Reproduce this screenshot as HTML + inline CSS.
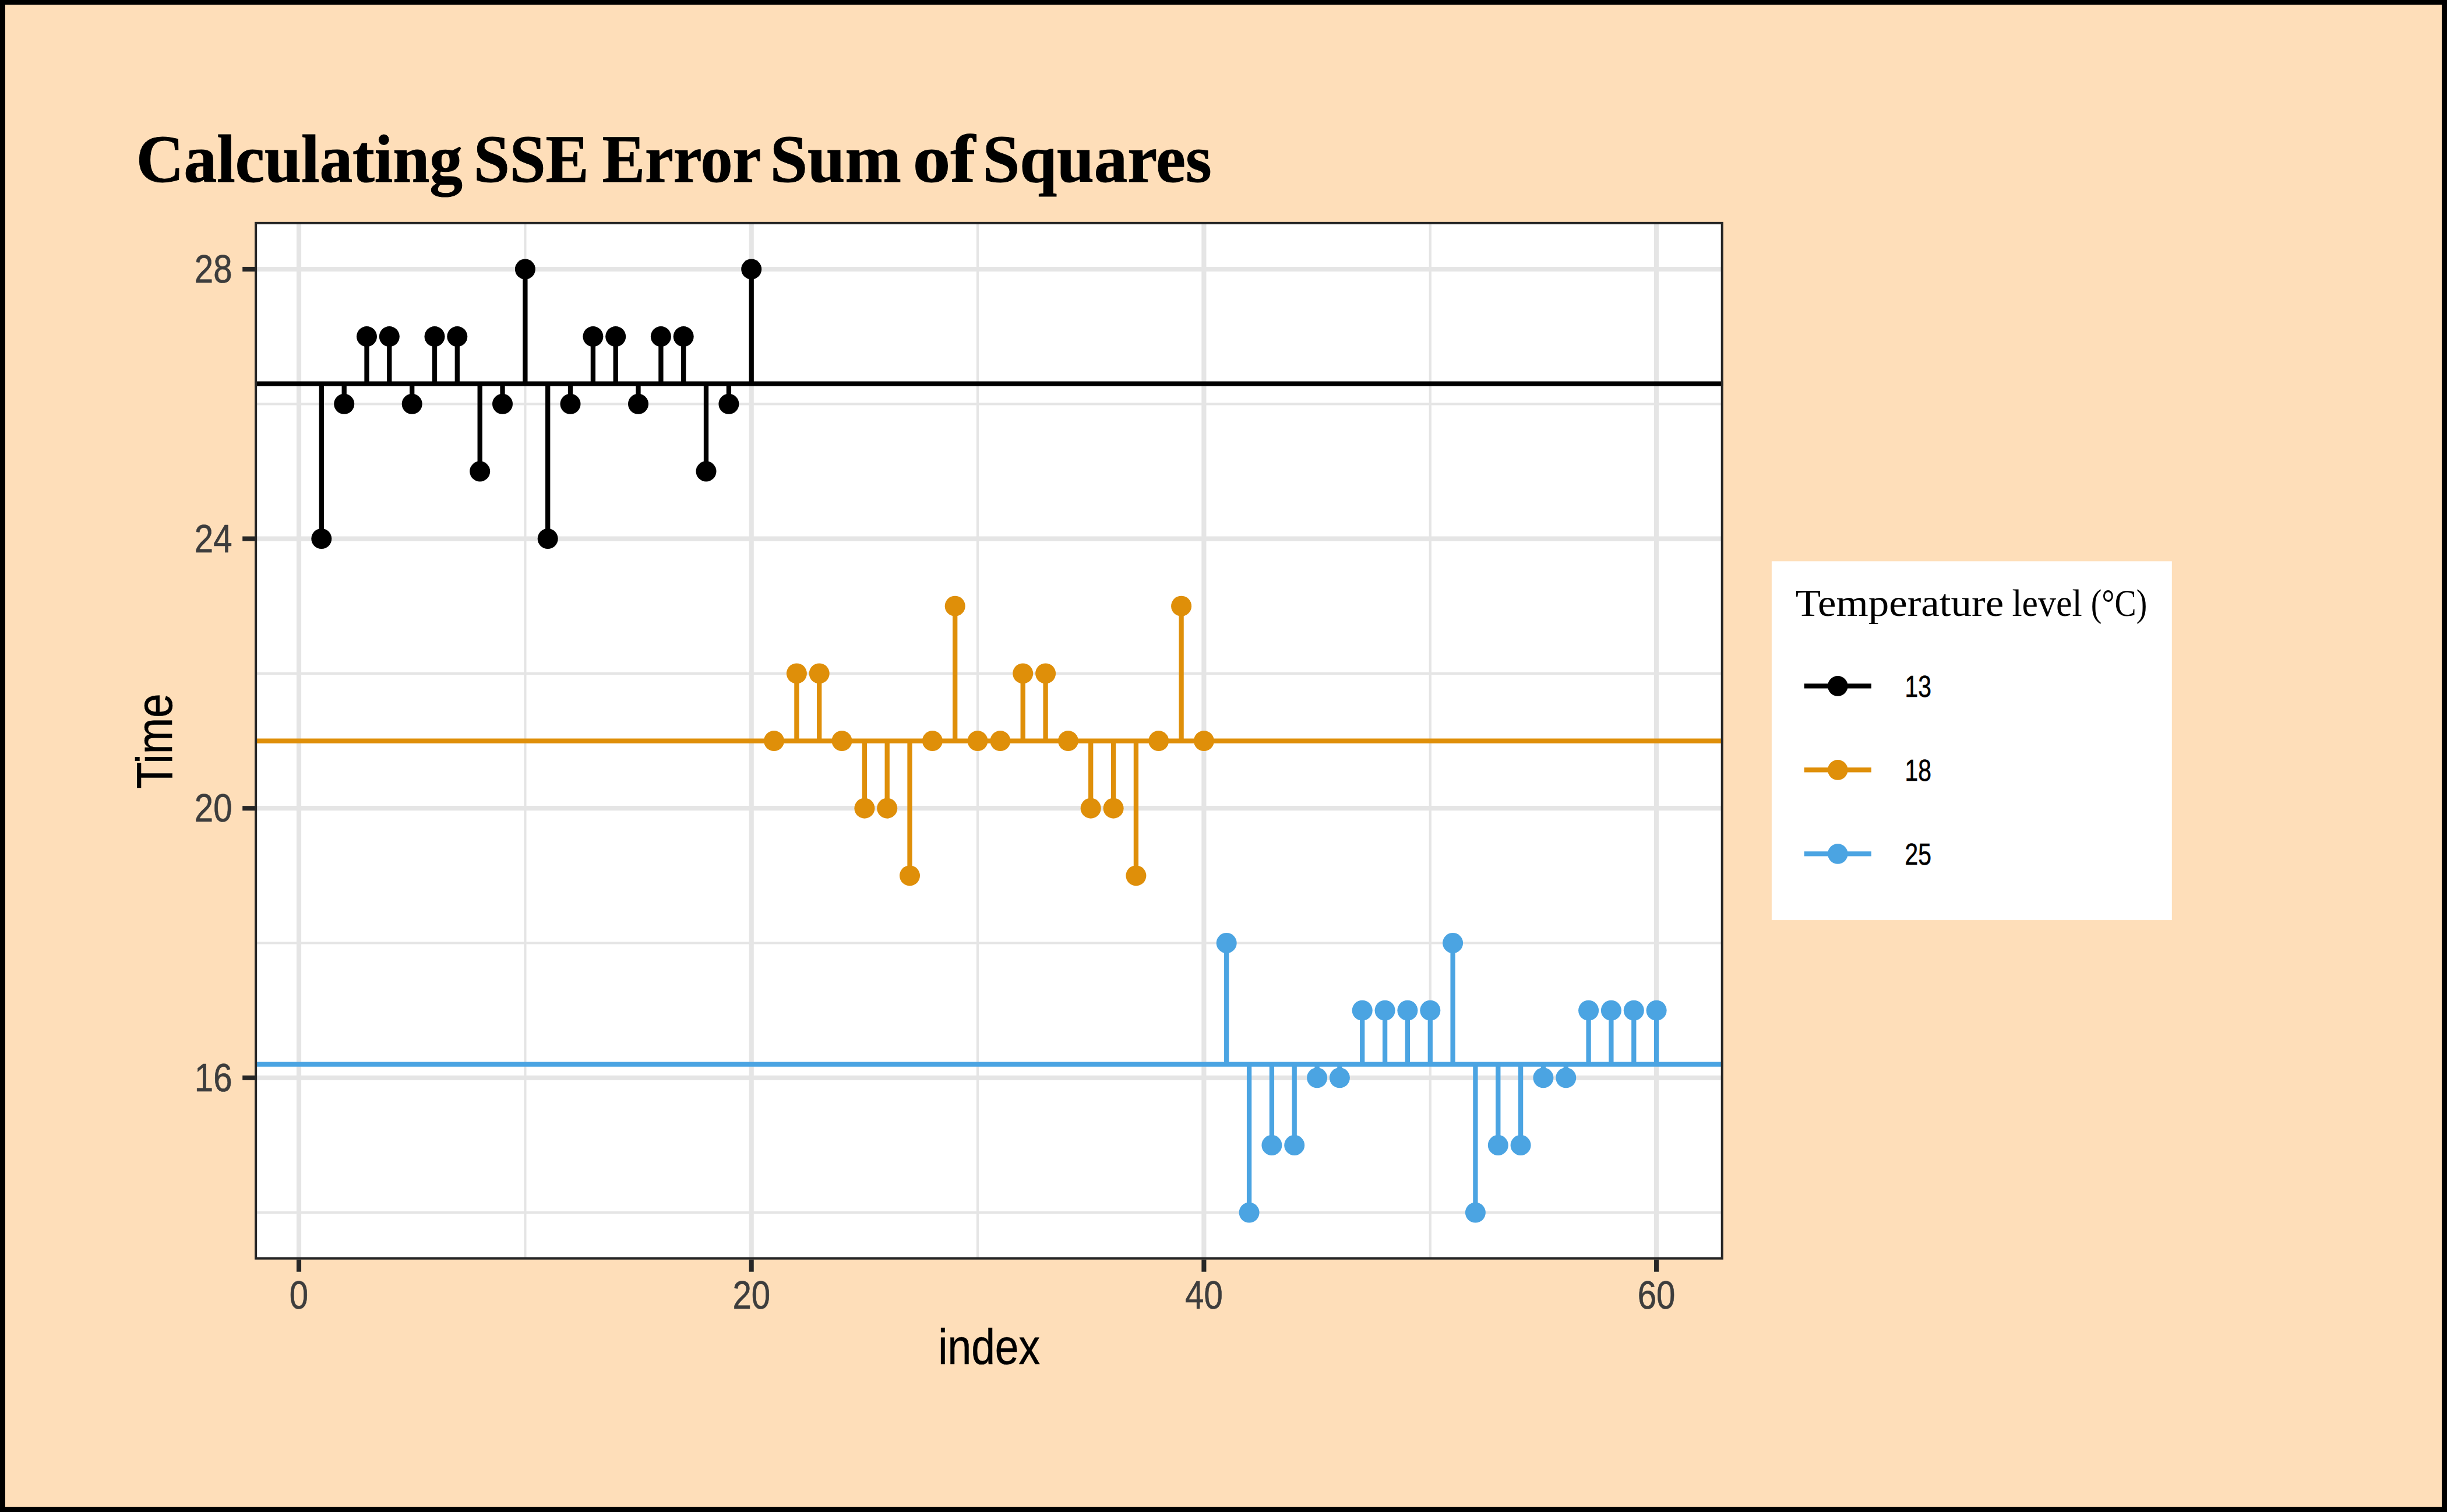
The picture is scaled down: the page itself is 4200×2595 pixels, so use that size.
<!DOCTYPE html>
<html lang="en"><head><meta charset="utf-8"><title>Calculating SSE Error Sum of Squares</title>
<style>html,body{margin:0;padding:0;background:#000;width:4200px;height:2595px}svg{display:block}.sans{font-family:"Liberation Sans",sans-serif}.serif{font-family:"Liberation Serif",serif}</style></head><body>
<svg width="4200" height="2595" viewBox="0 0 4200 2595">
<rect x="0" y="0" width="4200" height="2595" fill="#000"/>
<rect x="9" y="8" width="4182" height="2578" fill="#FEDEB9"/>
<rect x="439.1" y="382.9" width="2516.7" height="1776.8" fill="#fff"/>
<g stroke="#E5E5E5" stroke-width="4.2" fill="none">
<line x1="439.1" x2="2955.8" y1="2081.1" y2="2081.1"/>
<line x1="439.1" x2="2955.8" y1="1618.5" y2="1618.5"/>
<line x1="439.1" x2="2955.8" y1="1155.9" y2="1155.9"/>
<line x1="439.1" x2="2955.8" y1="693.3" y2="693.3"/>
<line y1="382.9" y2="2159.7" x1="901.4" x2="901.4"/>
<line y1="382.9" y2="2159.7" x1="1678.0" x2="1678.0"/>
<line y1="382.9" y2="2159.7" x1="2454.8" x2="2454.8"/>
</g>
<g stroke="#E5E5E5" stroke-width="8.2" fill="none">
<line x1="439.1" x2="2955.8" y1="1849.8" y2="1849.8"/>
<line x1="439.1" x2="2955.8" y1="1387.2" y2="1387.2"/>
<line x1="439.1" x2="2955.8" y1="924.6" y2="924.6"/>
<line x1="439.1" x2="2955.8" y1="462.0" y2="462.0"/>
<line y1="382.9" y2="2159.7" x1="513.0" x2="513.0"/>
<line y1="382.9" y2="2159.7" x1="1289.7" x2="1289.7"/>
<line y1="382.9" y2="2159.7" x1="2066.4" x2="2066.4"/>
<line y1="382.9" y2="2159.7" x1="2843.1" x2="2843.1"/>
</g>
<g stroke="#000000" stroke-width="8.3" fill="#000000">
<line x1="437.1" x2="2957.8" y1="658.6" y2="658.6"/>
<line x1="551.8" x2="551.8" y1="658.6" y2="924.6"/>
<line x1="590.7" x2="590.7" y1="658.6" y2="693.3"/>
<line x1="629.5" x2="629.5" y1="658.6" y2="577.6"/>
<line x1="668.3" x2="668.3" y1="658.6" y2="577.6"/>
<line x1="707.2" x2="707.2" y1="658.6" y2="693.3"/>
<line x1="746.0" x2="746.0" y1="658.6" y2="577.6"/>
<line x1="784.8" x2="784.8" y1="658.6" y2="577.6"/>
<line x1="823.7" x2="823.7" y1="658.6" y2="809.0"/>
<line x1="862.5" x2="862.5" y1="658.6" y2="693.3"/>
<line x1="901.4" x2="901.4" y1="658.6" y2="462.0"/>
<line x1="940.2" x2="940.2" y1="658.6" y2="924.6"/>
<line x1="979.0" x2="979.0" y1="658.6" y2="693.3"/>
<line x1="1017.9" x2="1017.9" y1="658.6" y2="577.6"/>
<line x1="1056.7" x2="1056.7" y1="658.6" y2="577.6"/>
<line x1="1095.5" x2="1095.5" y1="658.6" y2="693.3"/>
<line x1="1134.4" x2="1134.4" y1="658.6" y2="577.6"/>
<line x1="1173.2" x2="1173.2" y1="658.6" y2="577.6"/>
<line x1="1212.0" x2="1212.0" y1="658.6" y2="809.0"/>
<line x1="1250.9" x2="1250.9" y1="658.6" y2="693.3"/>
<line x1="1289.7" x2="1289.7" y1="658.6" y2="462.0"/>
</g>
<g fill="#000000">
<circle cx="551.8" cy="924.6" r="17.5"/>
<circle cx="590.7" cy="693.3" r="17.5"/>
<circle cx="629.5" cy="577.6" r="17.5"/>
<circle cx="668.3" cy="577.6" r="17.5"/>
<circle cx="707.2" cy="693.3" r="17.5"/>
<circle cx="746.0" cy="577.6" r="17.5"/>
<circle cx="784.8" cy="577.6" r="17.5"/>
<circle cx="823.7" cy="809.0" r="17.5"/>
<circle cx="862.5" cy="693.3" r="17.5"/>
<circle cx="901.4" cy="462.0" r="17.5"/>
<circle cx="940.2" cy="924.6" r="17.5"/>
<circle cx="979.0" cy="693.3" r="17.5"/>
<circle cx="1017.9" cy="577.6" r="17.5"/>
<circle cx="1056.7" cy="577.6" r="17.5"/>
<circle cx="1095.5" cy="693.3" r="17.5"/>
<circle cx="1134.4" cy="577.6" r="17.5"/>
<circle cx="1173.2" cy="577.6" r="17.5"/>
<circle cx="1212.0" cy="809.0" r="17.5"/>
<circle cx="1250.9" cy="693.3" r="17.5"/>
<circle cx="1289.7" cy="462.0" r="17.5"/>
</g>
<g stroke="#DF8F09" stroke-width="8.3" fill="#DF8F09">
<line x1="437.1" x2="2957.8" y1="1271.6" y2="1271.6"/>
<line x1="1328.5" x2="1328.5" y1="1271.6" y2="1271.6"/>
<line x1="1367.4" x2="1367.4" y1="1271.6" y2="1155.9"/>
<line x1="1406.2" x2="1406.2" y1="1271.6" y2="1155.9"/>
<line x1="1445.0" x2="1445.0" y1="1271.6" y2="1271.6"/>
<line x1="1483.9" x2="1483.9" y1="1271.6" y2="1387.2"/>
<line x1="1522.7" x2="1522.7" y1="1271.6" y2="1387.2"/>
<line x1="1561.5" x2="1561.5" y1="1271.6" y2="1502.9"/>
<line x1="1600.4" x2="1600.4" y1="1271.6" y2="1271.6"/>
<line x1="1639.2" x2="1639.2" y1="1271.6" y2="1040.2"/>
<line x1="1678.0" x2="1678.0" y1="1271.6" y2="1271.6"/>
<line x1="1716.9" x2="1716.9" y1="1271.6" y2="1271.6"/>
<line x1="1755.7" x2="1755.7" y1="1271.6" y2="1155.9"/>
<line x1="1794.6" x2="1794.6" y1="1271.6" y2="1155.9"/>
<line x1="1833.4" x2="1833.4" y1="1271.6" y2="1271.6"/>
<line x1="1872.2" x2="1872.2" y1="1271.6" y2="1387.2"/>
<line x1="1911.1" x2="1911.1" y1="1271.6" y2="1387.2"/>
<line x1="1949.9" x2="1949.9" y1="1271.6" y2="1502.9"/>
<line x1="1988.7" x2="1988.7" y1="1271.6" y2="1271.6"/>
<line x1="2027.6" x2="2027.6" y1="1271.6" y2="1040.2"/>
<line x1="2066.4" x2="2066.4" y1="1271.6" y2="1271.6"/>
</g>
<g fill="#DF8F09">
<circle cx="1328.5" cy="1271.6" r="17.5"/>
<circle cx="1367.4" cy="1155.9" r="17.5"/>
<circle cx="1406.2" cy="1155.9" r="17.5"/>
<circle cx="1445.0" cy="1271.6" r="17.5"/>
<circle cx="1483.9" cy="1387.2" r="17.5"/>
<circle cx="1522.7" cy="1387.2" r="17.5"/>
<circle cx="1561.5" cy="1502.9" r="17.5"/>
<circle cx="1600.4" cy="1271.6" r="17.5"/>
<circle cx="1639.2" cy="1040.2" r="17.5"/>
<circle cx="1678.0" cy="1271.6" r="17.5"/>
<circle cx="1716.9" cy="1271.6" r="17.5"/>
<circle cx="1755.7" cy="1155.9" r="17.5"/>
<circle cx="1794.6" cy="1155.9" r="17.5"/>
<circle cx="1833.4" cy="1271.6" r="17.5"/>
<circle cx="1872.2" cy="1387.2" r="17.5"/>
<circle cx="1911.1" cy="1387.2" r="17.5"/>
<circle cx="1949.9" cy="1502.9" r="17.5"/>
<circle cx="1988.7" cy="1271.6" r="17.5"/>
<circle cx="2027.6" cy="1040.2" r="17.5"/>
<circle cx="2066.4" cy="1271.6" r="17.5"/>
</g>
<g stroke="#4BA4E2" stroke-width="8.3" fill="#4BA4E2">
<line x1="437.1" x2="2957.8" y1="1826.7" y2="1826.7"/>
<line x1="2105.2" x2="2105.2" y1="1826.7" y2="1618.5"/>
<line x1="2144.1" x2="2144.1" y1="1826.7" y2="2081.1"/>
<line x1="2182.9" x2="2182.9" y1="1826.7" y2="1965.5"/>
<line x1="2221.7" x2="2221.7" y1="1826.7" y2="1965.5"/>
<line x1="2260.6" x2="2260.6" y1="1826.7" y2="1849.8"/>
<line x1="2299.4" x2="2299.4" y1="1826.7" y2="1849.8"/>
<line x1="2338.2" x2="2338.2" y1="1826.7" y2="1734.2"/>
<line x1="2377.1" x2="2377.1" y1="1826.7" y2="1734.2"/>
<line x1="2415.9" x2="2415.9" y1="1826.7" y2="1734.2"/>
<line x1="2454.8" x2="2454.8" y1="1826.7" y2="1734.2"/>
<line x1="2493.6" x2="2493.6" y1="1826.7" y2="1618.5"/>
<line x1="2532.4" x2="2532.4" y1="1826.7" y2="2081.1"/>
<line x1="2571.3" x2="2571.3" y1="1826.7" y2="1965.5"/>
<line x1="2610.1" x2="2610.1" y1="1826.7" y2="1965.5"/>
<line x1="2648.9" x2="2648.9" y1="1826.7" y2="1849.8"/>
<line x1="2687.8" x2="2687.8" y1="1826.7" y2="1849.8"/>
<line x1="2726.6" x2="2726.6" y1="1826.7" y2="1734.2"/>
<line x1="2765.4" x2="2765.4" y1="1826.7" y2="1734.2"/>
<line x1="2804.3" x2="2804.3" y1="1826.7" y2="1734.2"/>
<line x1="2843.1" x2="2843.1" y1="1826.7" y2="1734.2"/>
</g>
<g fill="#4BA4E2">
<circle cx="2105.2" cy="1618.5" r="17.5"/>
<circle cx="2144.1" cy="2081.1" r="17.5"/>
<circle cx="2182.9" cy="1965.5" r="17.5"/>
<circle cx="2221.7" cy="1965.5" r="17.5"/>
<circle cx="2260.6" cy="1849.8" r="17.5"/>
<circle cx="2299.4" cy="1849.8" r="17.5"/>
<circle cx="2338.2" cy="1734.2" r="17.5"/>
<circle cx="2377.1" cy="1734.2" r="17.5"/>
<circle cx="2415.9" cy="1734.2" r="17.5"/>
<circle cx="2454.8" cy="1734.2" r="17.5"/>
<circle cx="2493.6" cy="1618.5" r="17.5"/>
<circle cx="2532.4" cy="2081.1" r="17.5"/>
<circle cx="2571.3" cy="1965.5" r="17.5"/>
<circle cx="2610.1" cy="1965.5" r="17.5"/>
<circle cx="2648.9" cy="1849.8" r="17.5"/>
<circle cx="2687.8" cy="1849.8" r="17.5"/>
<circle cx="2726.6" cy="1734.2" r="17.5"/>
<circle cx="2765.4" cy="1734.2" r="17.5"/>
<circle cx="2804.3" cy="1734.2" r="17.5"/>
<circle cx="2843.1" cy="1734.2" r="17.5"/>
</g>
<rect x="439.1" y="382.9" width="2516.7" height="1776.8" fill="none" stroke="#262626" stroke-width="4.1"/>
<g stroke="#262626" stroke-width="8.1">
<line x1="416.2" x2="437.1" y1="1849.8" y2="1849.8"/>
<line x1="416.2" x2="437.1" y1="1387.2" y2="1387.2"/>
<line x1="416.2" x2="437.1" y1="924.6" y2="924.6"/>
<line x1="416.2" x2="437.1" y1="462.0" y2="462.0"/>
<line y1="2161.7" y2="2182.7" x1="513.0" x2="513.0"/>
<line y1="2161.7" y2="2182.7" x1="1289.7" x2="1289.7"/>
<line y1="2161.7" y2="2182.7" x1="2066.4" x2="2066.4"/>
<line y1="2161.7" y2="2182.7" x1="2843.1" x2="2843.1"/>
</g>
<g class="sans" font-size="68" fill="#3D3D3D" stroke="#3D3D3D" stroke-width="0.7">
<text transform="translate(398.5,1873.0) scale(0.855,1)" text-anchor="end">16</text>
<text transform="translate(398.5,1410.4) scale(0.855,1)" text-anchor="end">20</text>
<text transform="translate(398.5,947.8) scale(0.855,1)" text-anchor="end">24</text>
<text transform="translate(398.5,485.2) scale(0.855,1)" text-anchor="end">28</text>
<text transform="translate(513.0,2246.3) scale(0.855,1)" text-anchor="middle">0</text>
<text transform="translate(1289.7,2246.3) scale(0.855,1)" text-anchor="middle">20</text>
<text transform="translate(2066.4,2246.3) scale(0.855,1)" text-anchor="middle">40</text>
<text transform="translate(2843.1,2246.3) scale(0.855,1)" text-anchor="middle">60</text>
</g>
<g class="sans" font-size="86" fill="#000" stroke="#000" stroke-width="0.6">
<text transform="translate(1697.6,2340.7) scale(0.85,1)" text-anchor="middle">index</text>
<text font-size="88" transform="translate(295.4,1272) rotate(-90) scale(0.85,1)" text-anchor="middle">Time</text>
</g>
<text id="title" class="serif" font-weight="bold" font-size="116" fill="#000" stroke="#000" stroke-width="1.0" y="312.2"><tspan x="233.7" textLength="560.3" lengthAdjust="spacingAndGlyphs">Calculating</tspan> <tspan x="812.9" textLength="197.7" lengthAdjust="spacingAndGlyphs">SSE</tspan> <tspan x="1033.7" textLength="270.7" lengthAdjust="spacingAndGlyphs">Error</tspan> <tspan x="1321.8" textLength="225.0" lengthAdjust="spacingAndGlyphs">Sum</tspan> <tspan x="1566.8" textLength="107.6" lengthAdjust="spacingAndGlyphs">of</tspan> <tspan x="1686.4" textLength="393.2" lengthAdjust="spacingAndGlyphs">Squares</tspan></text>
<rect x="3040.9" y="963.3" width="686.9" height="615.8" fill="#fff"/>
<text id="ltitle" class="serif" font-weight="normal" font-size="66" fill="#000" stroke="#000" stroke-width="0" y="1056.6"><tspan x="3081.7" textLength="357.5" lengthAdjust="spacingAndGlyphs">Temperature</tspan> <tspan x="3453.4" textLength="120.3" lengthAdjust="spacingAndGlyphs">level</tspan> <tspan x="3588.8" textLength="96.5" lengthAdjust="spacingAndGlyphs">(°C)</tspan></text>
<line x1="3096.7" x2="3211.9" y1="1177.4" y2="1177.4" stroke="#000000" stroke-width="8.3"/>
<circle cx="3154.3" cy="1177.4" r="17.3" fill="#000000"/>
<text class="sans" font-size="51" fill="#000" stroke="#000" stroke-width="0.6" transform="translate(3269.6,1195.8) scale(0.80,1)">13</text>
<line x1="3096.7" x2="3211.9" y1="1321.4" y2="1321.4" stroke="#DF8F09" stroke-width="8.3"/>
<circle cx="3154.3" cy="1321.4" r="17.3" fill="#DF8F09"/>
<text class="sans" font-size="51" fill="#000" stroke="#000" stroke-width="0.6" transform="translate(3269.6,1339.8) scale(0.80,1)">18</text>
<line x1="3096.7" x2="3211.9" y1="1465.4" y2="1465.4" stroke="#4BA4E2" stroke-width="8.3"/>
<circle cx="3154.3" cy="1465.4" r="17.3" fill="#4BA4E2"/>
<text class="sans" font-size="51" fill="#000" stroke="#000" stroke-width="0.6" transform="translate(3269.6,1483.8) scale(0.80,1)">25</text>
</svg></body></html>
